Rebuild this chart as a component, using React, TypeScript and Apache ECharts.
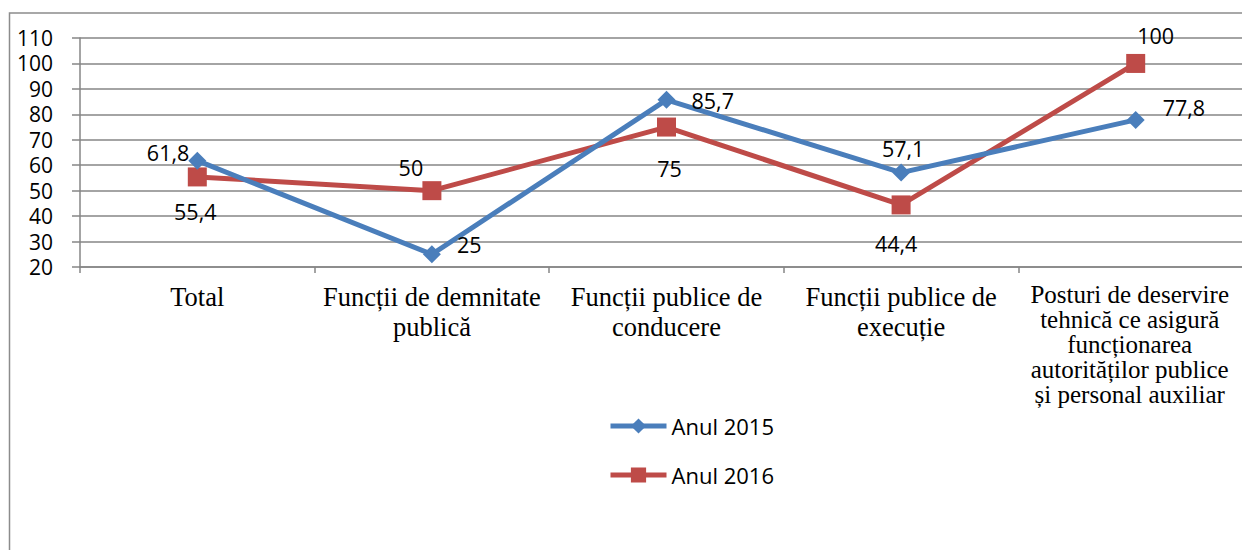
import React, { useEffect, useRef } from "react";
import * as echarts from "echarts";

const categories = [
  "Total",
  "Funcții de demnitate\npublică",
  "Funcții publice de\nconducere",
  "Funcții publice de\nexecuție",
  "Posturi de deservire\ntehnică ce asigură\nfuncționarea\nautorităților publice\nși personal auxiliar",
];
const series2015 = [61.8, 25, 85.7, 57.1, 77.8];
const series2016 = [55.4, 50, 75, 44.4, 100];
const yTicks = { min: 20, max: 110, interval: 10 };

const fmt = (v: number) => String(v).replace(".", ",");

// label placement per point (style, not data)
const labels2015: any[] = [
  { position: "left", offset: [6, -8] },
  { position: "right", offset: [11, -10] },
  { position: "right", offset: [11, 1] },
  { position: "top", offset: [2, 1] },
  { position: "right", offset: [13, -12] },
];
const labels2016: any[] = [
  { position: "bottom", offset: [-2, 9] },
  { position: "top", offset: [-21, 2] },
  { position: "bottom", offset: [3, 16] },
  { position: "bottom", offset: [-5, 13] },
  { position: "top", offset: [20, -2] },
];

const labelFont = { fontFamily: "Open Sans", fontSize: 21.5, color: "#000" };

export default function App() {
  const ref = useRef<HTMLDivElement>(null);
  useEffect(() => {
    if (!ref.current) return;
    const chart = echarts.init(ref.current, null, { renderer: "svg" });
    const mk = (vals: number[], lbl: any[]) =>
      vals.map((v, i) => ({
        value: v,
        label: { show: true, formatter: fmt(v), ...labelFont, ...lbl[i] },
      }));
    chart.setOption({
      animation: false,
      graphic: [
        {
          type: "rect",
          shape: { x: 9.5, y: 13, width: 1400, height: 700 },
          style: { fill: "none", stroke: "#8c8c8c", lineWidth: 1.5 },
          silent: true,
        },
      ],
      legend: {
        orient: "vertical",
        left: 603,
        top: 410,
        itemWidth: 56,
        itemHeight: 19,
        itemGap: 27,
        lineStyle: { width: 5 },
        textStyle: { fontFamily: "Open Sans", fontSize: 22, color: "#000" },
        data: ["Anul 2015", "Anul 2016"],
      },
      grid: { left: 80, top: 38, right: 0, bottom: 283, containLabel: false },
      xAxis: {
        type: "category",
        data: categories,
        boundaryGap: true,
        axisLine: { lineStyle: { color: "#868686", width: 1.5 } },
        axisTick: { show: true, length: 6, lineStyle: { color: "#868686", width: 1.5 } },
        axisLabel: {
          interval: 0,
          margin: 15,
          fontFamily: "Liberation Serif",
          color: "#000",
          align: "center",
          verticalAlign: "top",
          formatter: (val: string, idx: number) => {
            const st = idx === categories.length - 1 ? "b" : "a";
            return val
              .split("\n")
              .map((l) => `{${st}|${l}}`)
              .join("\n");
          },
          rich: {
            a: { fontFamily: "Liberation Serif", fontSize: 26.5, lineHeight: 30, color: "#000" },
            b: {
              fontFamily: "Liberation Serif",
              fontSize: 25,
              lineHeight: 25,
              color: "#000",
              padding: [0, 12, 0, 0],
            },
          },
        },
      },
      yAxis: {
        type: "value",
        min: yTicks.min,
        max: yTicks.max,
        interval: yTicks.interval,
        axisLine: { show: true, lineStyle: { color: "#868686", width: 1.5 } },
        axisTick: { show: true, length: 8, lineStyle: { color: "#868686", width: 1.5 } },
        splitLine: { lineStyle: { color: "#868686", width: 1.5 } },
        axisLabel: {
          margin: 27,
          fontFamily: "Open Sans",
          fontSize: 21,
          color: "#000",
        },
      },
      series: [
        {
          name: "Anul 2015",
          type: "line",
          data: mk(series2015, labels2015),
          symbol: "diamond",
          symbolSize: 18,
          lineStyle: { color: "#4a7ebb", width: 5 },
          itemStyle: { color: "#4a7ebb" },
          z: 3,
        },
        {
          name: "Anul 2016",
          type: "line",
          data: mk(series2016, labels2016),
          symbol: "rect",
          symbolSize: 19,
          lineStyle: { color: "#be4b48", width: 5 },
          itemStyle: { color: "#be4b48" },
          z: 2,
        },
      ],
    });
    return () => chart.dispose();
  }, []);
  return (
    <div
      style={{
        position: "absolute",
        left: 0,
        top: 0,
        width: 1242,
        height: 550,
        overflow: "hidden",
        background: "#fff",
      }}
    >
      <div ref={ref} style={{ width: 1253, height: 550 }} />
    </div>
  );
}
